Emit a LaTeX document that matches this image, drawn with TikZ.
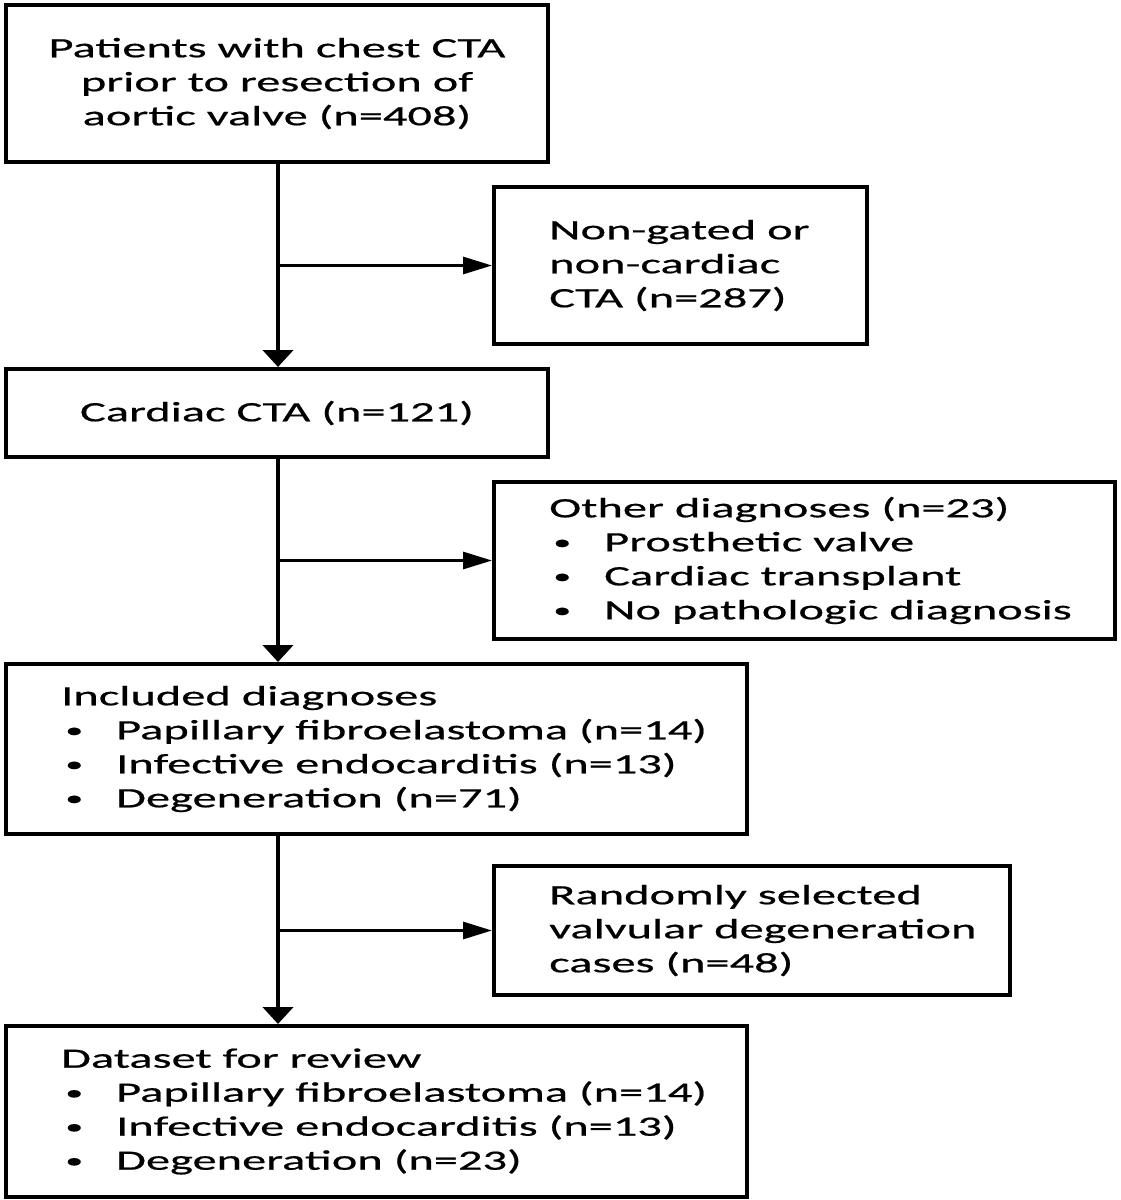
\documentclass[tikz,border=0pt]{standalone}
\usepackage{fontspec}
\setmainfont{Carlito}[FakeStretch=1.73,FakeBold=0.6]
\usetikzlibrary{positioning,arrows.meta}

\newcommand\bul[1]{\makebox[55pt][l]{\hspace{4pt}\raisebox{2pt}{\fontsize{21}{21}\selectfont •}}#1}
\tikzset{box/.style={draw,line width=4pt,inner sep=0pt},
  txt/.style={align=left,inner sep=0pt}}

\begin{document}
\begin{tikzpicture}[x=1pt,y=-1pt,font=\fontsize{28}{34}\selectfont,
  down/.style={line width=4.5pt,-{Triangle[length=17pt,width=30pt]}},
  side/.style={line width=3pt,-{Triangle[length=29pt,width=17pt]}}]
\useasboundingbox (0,0) rectangle (1121,1200);
\coordinate (spine) at (278,0);
% left column
\node[box,anchor=north west,minimum width=542pt,minimum height=157pt,align=center] (patients) at (4,3) {Patients with chest CTA\\prior to resection of\\aortic valve (n=408)};
\node[box,anchor=north west,minimum width=542pt,minimum height=88pt] (cardiac) at (4,367) {Cardiac CTA (n=121)};
\node[box,anchor=north west,minimum width=741pt,minimum height=170pt] (included) at (4,662) {};
\node[txt,right=57pt of included.west] (includedtxt) {Included diagnoses\\\bul{Papillary fibroelastoma (n=14)}\\\bul{Infective endocarditis (n=13)}\\\bul{Degeneration (n=71)}};
\node[box,anchor=north west,minimum width=741pt,minimum height=171pt] (dataset) at (4,1024) {};
\node[txt,right=57pt of dataset.west] (datasettxt) {Dataset for review\\\bul{Papillary fibroelastoma (n=14)}\\\bul{Infective endocarditis (n=13)}\\\bul{Degeneration (n=23)}};
% right column
\node[box,anchor=north west,minimum width=373pt,minimum height=157pt] (nongated) at (492,185) {};
\node[txt,right=57pt of nongated.west] (nongatedtxt) {Non-gated or\\non-cardiac\\CTA (n=287)};
\node[box,anchor=north west,minimum width=621pt,minimum height=157pt] (other) at (492,480) {};
\node[txt,right=57pt of other.west] (othertxt) {Other diagnoses (n=23)\\\bul{Prosthetic valve}\\\bul{Cardiac transplant}\\\bul{No pathologic diagnosis}};
\node[box,anchor=north west,minimum width=516pt,minimum height=129pt] (random) at (492,864) {};
\node[txt,right=57pt of random.west] (randomtxt) {Randomly selected\\valvular degeneration\\cases (n=48)};
% arrows
\draw[down] (patients.south -| spine) -- (cardiac.north -| spine);
\draw[down] (cardiac.south -| spine) -- (included.north -| spine);
\draw[down] (included.south -| spine) -- (dataset.north -| spine);
\draw[side] (nongated.west -| spine) -- (nongated.west);
\draw[side] (other.west -| spine) -- (other.west);
\draw[side] (random.west -| spine) -- (random.west);
\end{tikzpicture}
\end{document}
